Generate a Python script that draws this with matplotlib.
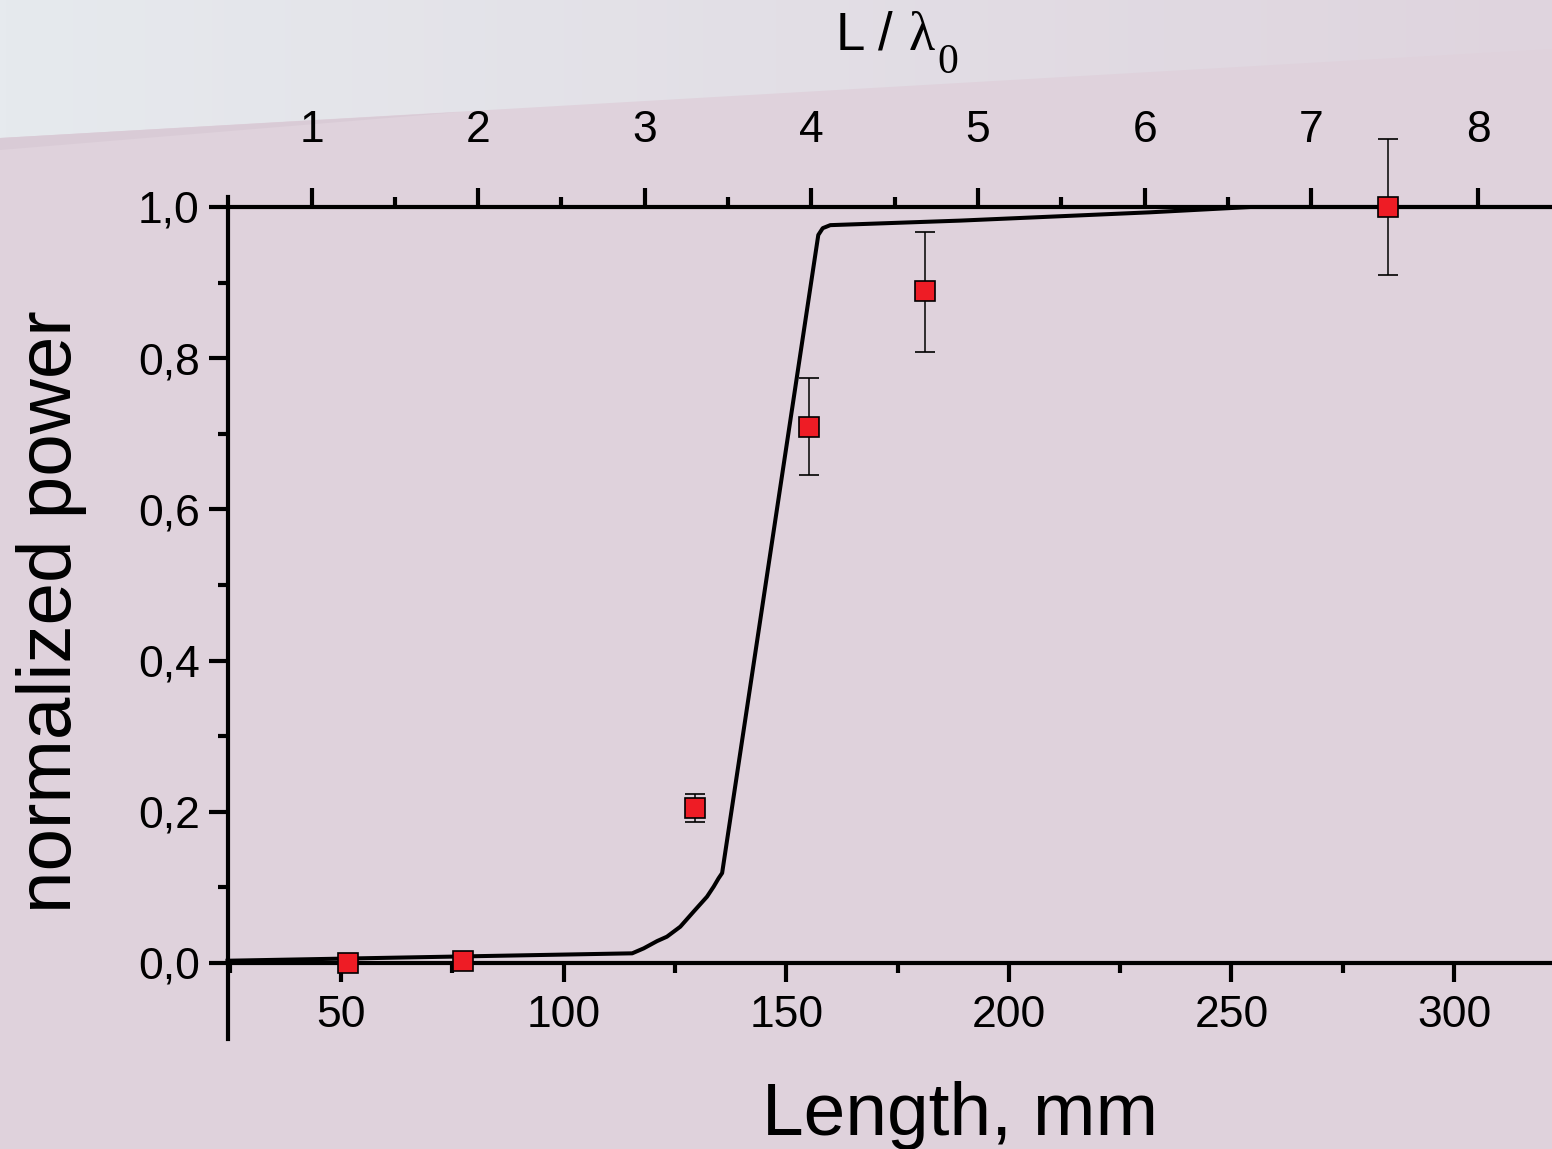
import numpy as np
import matplotlib
matplotlib.use('Agg')
import matplotlib.pyplot as plt
from matplotlib.patches import Polygon
from matplotlib.ticker import MultipleLocator, FixedLocator, FuncFormatter

# measured points: length (mm), normalized power, error bars
length_mm = [51.5, 77.4, 129.4, 155.2, 181.1, 285.1]
power = [0.0, 0.002, 0.205, 0.709, 0.889, 1.0]
err_low = [0.005, 0.005, 0.019, 0.064, 0.081, 0.090]
err_high = [0.005, 0.005, 0.019, 0.065, 0.078, 0.090]

# calculated curve
curve_mm = [24.5, 115.4, 118.0, 121.0, 123.2, 126.2, 129.2, 132.2, 133.7, 134.8, 135.6,
            157.2, 158.2, 159.9, 189.1, 231.8, 254.3, 322.0]
curve_p = [0.003, 0.0128, 0.0194, 0.029, 0.0348, 0.048, 0.068, 0.0877, 0.101, 0.112, 0.119,
           0.963, 0.972, 0.976, 0.982, 0.993, 1.0, 1.0]

# top axis: L / lambda0
lam0 = 37.43
offset = 5.94
top_ticks = [1, 2, 3, 4, 5, 6, 7, 8]

W, H = 1552, 1149
plt.rcParams['font.family'] = ['Liberation Sans', 'DejaVu Sans']
fig = plt.figure(figsize=(W / 100, H / 100), dpi=100)
bg_col = '#dfd2dc'
fig.patch.set_facecolor(bg_col)

# slide background: light wedge in top left
bg = fig.add_axes([0, 0, 1, 1], zorder=-10)
bg.set_xlim(0, W)
bg.set_ylim(H, 0)
bg.axis('off')
grad = np.linspace(0, 1, 256)
c0 = np.array([230, 234, 238]) / 255
c1 = np.array([223, 212, 222]) / 255
img = c0[None, :] * (1 - grad[:, None]) + c1[None, :] * grad[:, None]
im = bg.imshow(img[None, :, :], extent=(0, W, 150, 0), aspect='auto')
wedge = Polygon([(0, 0), (W, 0), (W, 49), (0, 138)], closed=True, transform=bg.transData)
im.set_clip_path(wedge)
bg.add_patch(Polygon([(0, 138), (460, 112), (0, 150)], closed=True, facecolor='#d9cbd6', edgecolor='none'))

ax = fig.add_axes([227.5 / W, 1 - 1038.6 / H, 1 - 227.5 / W, (1038.6 - 207) / H])
ax.set_facecolor('none')

ax.plot(curve_mm, curve_p, color='black', lw=2.9, clip_on=False, zorder=3)
ax.errorbar(length_mm, power, yerr=[err_low, err_high], fmt='s', ms=14,
            mfc='#ee1c25', mec='black', mew=1.2, ecolor='black', elinewidth=1.1,
            capsize=7, capthick=1.1, clip_on=False, zorder=4)

ax.set_xlim(24.5, 322)
ax.set_ylim(-0.1, 1.0)

ax.spines['right'].set_visible(False)
ax.spines['top'].set_visible(False)
ax.spines['bottom'].set_position(('data', 0))
ax.spines['left'].set_bounds(-0.1, 1.013)
for s in ['left', 'bottom']:
    ax.spines[s].set_linewidth(3)

ax.xaxis.set_major_locator(MultipleLocator(50))
ax.xaxis.set_minor_locator(MultipleLocator(25))
ax.set_yticks([0, 0.2, 0.4, 0.6, 0.8, 1.0])
ax.set_yticks(np.arange(0.1, 1.0, 0.2), minor=True)
ax.yaxis.set_major_formatter(FuncFormatter(lambda v, p: f'{v:.1f}'.replace('.', ',')))

ax.tick_params(axis='x', which='major', direction='out', length=14, width=3, labelsize=32, pad=9)
ax.tick_params(axis='x', which='minor', direction='out', length=7, width=3)
ax.tick_params(axis='y', which='major', direction='out', length=14, width=3, labelsize=32, pad=6)
ax.tick_params(axis='y', which='minor', direction='out', length=7, width=3)

sec = ax.secondary_xaxis('top', functions=(lambda x: (x - offset) / lam0, lambda t: t * lam0 + offset))
sec.xaxis.set_major_locator(FixedLocator(top_ticks))
sec.xaxis.set_minor_locator(FixedLocator([t + 0.5 for t in top_ticks[:-1]]))
sec.spines['top'].set_linewidth(3)
sec.tick_params(which='major', direction='out', length=14, width=3, labelsize=32, pad=26)
sec.tick_params(which='minor', direction='out', length=7, width=3)

# axis titles
fig.text(52 / W, 1 - 612 / H, 'normalized power', rotation=90, ha='center', va='center', fontsize=55)
fig.text(960 / W, 1 - 1135 / H, 'Length, mm', ha='center', va='baseline', fontsize=54)
fig.text(836 / W, 1 - 50 / H, 'L /', ha='left', va='baseline', fontsize=38)
fig.text(909 / W, 1 - 50 / H, '\u03bb', ha='left', va='baseline', fontsize=39, family='Liberation Serif')
fig.text(937 / W, 1 - 73 / H, '0', ha='left', va='baseline', fontsize=30, family='Liberation Serif')

fig.savefig('out.png', dpi=100, facecolor=fig.get_facecolor())
